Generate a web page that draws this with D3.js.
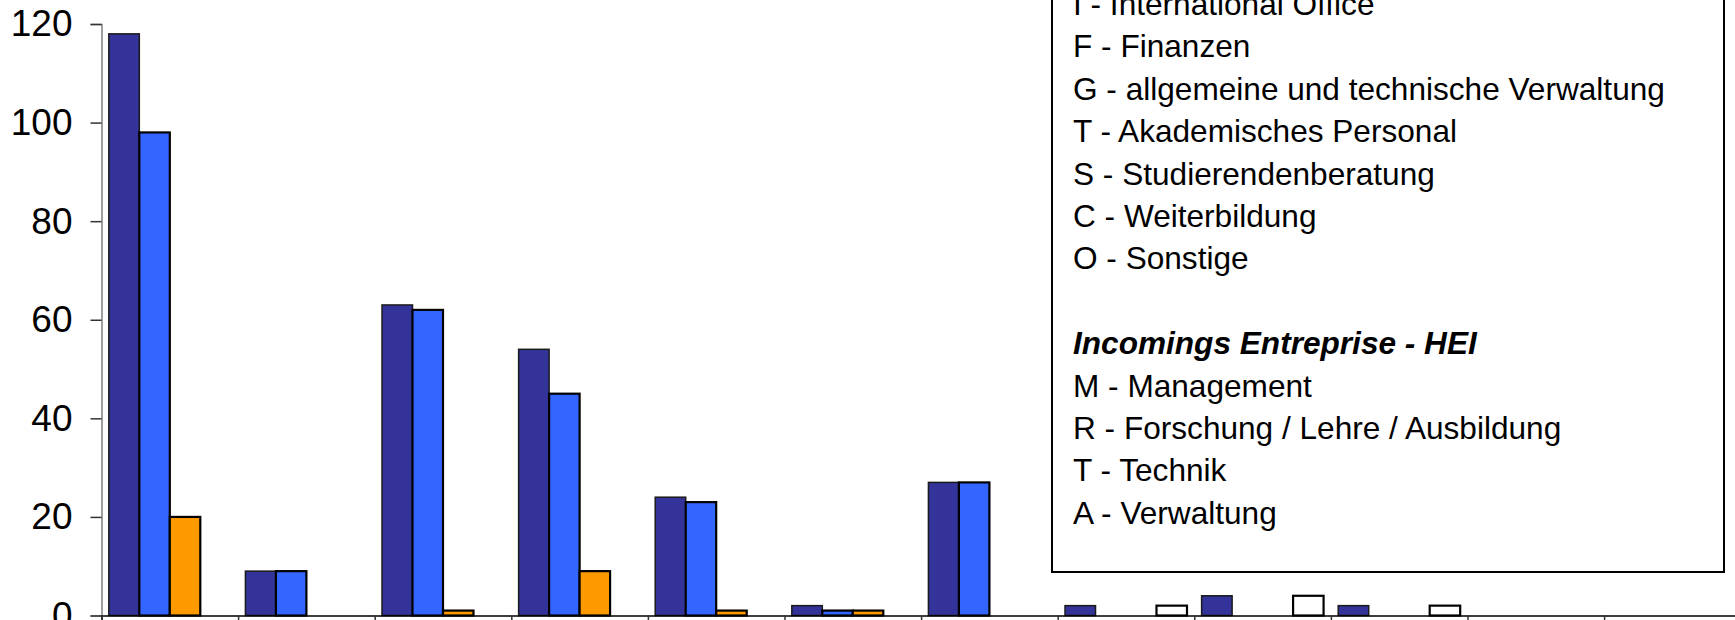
<!DOCTYPE html>
<html>
<head>
<meta charset="utf-8">
<script src="https://cdn.jsdelivr.net/npm/d3@7/dist/d3.min.js"></script>
<style>
  html, body { margin: 0; padding: 0; background: #ffffff; overflow: hidden; }
  svg { display: block; }
</style>
</head>
<body>
<svg id="chart" width="1735" height="620"></svg>
<script>
// ---- data ----
const categories = ["I", "F", "G", "T", "S", "C", "O", "M", "R", "T ", "A", ""];
const seriesNames = ["Reihe 1", "Reihe 2", "Reihe 3", "Reihe 4"];
const series1 = [118, 9, 63, 54, 24, 2, 27, 2, 4, 2, 0, 0];
const series2 = [98, 9, 62, 45, 23, 1, 27, 0, 0, 0, 0, 0];
const series3 = [20, 0, 1, 9, 1, 1, 0, 0, 0, 0, 0, 0];
const series4 = [0, 0, 0, 0, 0, 0, 0, 2, 4, 2, 0, 0];
const yTicks = [0, 20, 40, 60, 80, 100, 120];
const legendLines = [
  "I  - International Office",
  "F - Finanzen",
  "G - allgemeine und technische Verwaltung",
  "T - Akademisches Personal",
  "S - Studierendenberatung",
  "C - Weiterbildung",
  "O - Sonstige",
  "",
  "Incomings Entreprise - HEI",
  "M - Management",
  "R - Forschung / Lehre / Ausbildung",
  "T - Technik",
  "A - Verwaltung"
];
const headingLine = "Incomings Entreprise - HEI";

const seriesData = [series1, series2, series3, series4];
const colors = ["#333399", "#3366FF", "#FF9900", "#FFFFFF"];

// ---- layout ----
const svg = d3.select("#chart");
const left = 101.5, step = 136.6;
const right = left + categories.length * step;
const yTop = 24, yBottom = 615.5;

const x = d3.scaleBand().domain(d3.range(categories.length)).range([left, right]).paddingInner(0).paddingOuter(0);
const xs = d3.scaleBand().domain(d3.range(seriesNames.length)).range([0, x.bandwidth()]).paddingInner(0).paddingOuter(0.24);
const y = d3.scaleLinear().domain([0, 120]).range([yBottom, yTop]);

// bars
const barData = [];
seriesData.forEach((vals, si) => {
  vals.forEach((v, ci) => { if (v > 0) barData.push({ si, ci, v }); });
});
svg.append("g").selectAll("rect").data(barData).join("rect")
  .attr("x", d => x(d.ci) + xs(d.si))
  .attr("y", d => y(d.v))
  .attr("width", xs.bandwidth())
  .attr("height", d => y(0) - y(d.v))
  .attr("fill", d => colors[d.si])
  .attr("stroke", d => d.si === 0 ? "#1a1a1a" : "#000")
  .attr("stroke-width", d => d.si === 0 ? 1.5 : 2.2);

// y axis
const yAxis = d3.axisLeft(y).tickValues(yTicks).tickSize(11).tickPadding(18).tickFormat(d3.format("d"));
const gy = svg.append("g").attr("transform", `translate(${left},0)`).call(yAxis);
gy.select(".domain").attr("stroke", "#808080").attr("stroke-width", 1.5);
gy.selectAll(".tick line").attr("stroke", "#333").attr("stroke-width", 1.5);
gy.selectAll(".tick text").attr("font-family", "Liberation Sans, Arial, sans-serif").attr("font-size", 37).attr("fill", "#000");

// x axis (labels fall below the visible window)
const xAxis = d3.axisBottom(d3.scaleLinear().domain([0, categories.length]).range([left, right]))
  .tickValues(d3.range(categories.length + 1)).tickSize(10).tickFormat("");
const gx = svg.append("g").attr("transform", `translate(0,${yBottom})`).call(xAxis);
gx.select(".domain").attr("stroke", "#000").attr("stroke-width", 1.5);
gx.selectAll(".tick line").attr("stroke", "#333").attr("stroke-width", 1.5);

// legend / annotation box
const box = { x: 1052, y: -20, w: 672, bottom: 572 };
svg.append("rect")
  .attr("x", box.x).attr("y", box.y).attr("width", box.w).attr("height", box.bottom - box.y)
  .attr("fill", "#fff").attr("stroke", "#000").attr("stroke-width", 2);
svg.append("g").selectAll("text").data(legendLines).join("text")
  .attr("x", 1073)
  .attr("y", (d, i) => 15 + i * 42.4)
  .attr("font-family", "Liberation Sans, Arial, sans-serif")
  .attr("font-size", 31.6)
  .attr("font-weight", d => d === headingLine ? "bold" : "normal")
  .attr("font-style", d => d === headingLine ? "italic" : "normal")
  .attr("fill", "#000")
  .text(d => d);
</script>
</body>
</html>
